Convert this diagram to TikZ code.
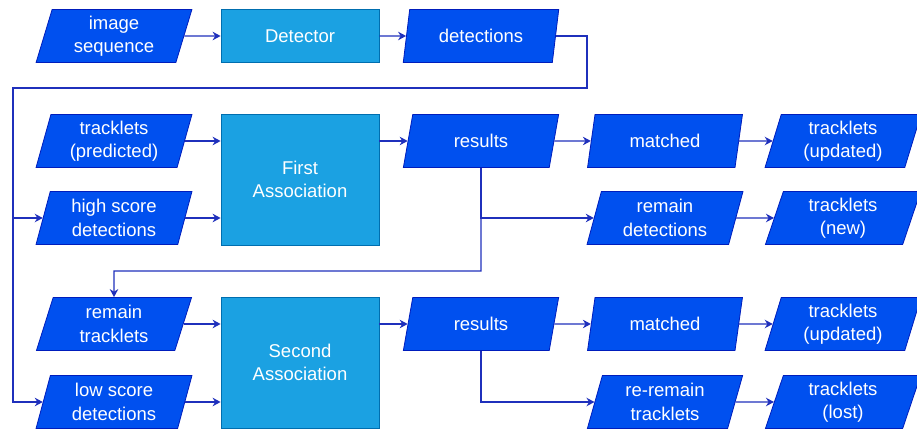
\documentclass[tikz,border=0pt]{standalone}
\usepackage{fontspec}
\setmainfont{Liberation Sans}
\usetikzlibrary{shapes.geometric,arrows.meta}
\definecolor{ioblue}{HTML}{0050EF}
\definecolor{iostroke}{HTML}{001DBC}
\definecolor{procblue}{HTML}{1BA1E2}
\definecolor{procstroke}{HTML}{006EAF}
\definecolor{wire}{HTML}{1F30BC}

\begin{document}
\begin{tikzpicture}[x=1pt,y=-1pt,
  iobox/.style={trapezium, trapezium left angle=76, trapezium right angle=104,
    trapezium stretches=true, minimum width=156pt, minimum height=53pt,
    fill=ioblue, draw=iostroke, line width=0.8pt, text=white, align=center,
    font=\fontsize{18.5}{23.5}\selectfont, inner sep=1pt},
  procbox/.style={rectangle, fill=procblue, draw=procstroke, line width=0.8pt,
    text=white, align=center, font=\fontsize{18.5}{23.5}\selectfont,
    minimum width=158pt},
  flow/.style={draw=wire, line width=1.3pt, -{Stealth[length=8pt,width=8.5pt]}},
]
\useasboundingbox (0,0) rectangle (917,430);
\clip (0,0) rectangle (917,430);

% detection stage
\node[iobox] (img) at (114,36) {image\\sequence};
\node[procbox, minimum height=53pt] (det) at (300,36) {Detector};
\node[iobox] (dets) at (481,36) {detections};

% first association
\node[iobox] (trkp) at (114,141) {tracklets\\(predicted)};
\node[iobox] (high) at (114,218) {high score\\detections};
\node[procbox, minimum height=131pt] (first) at (300,179.5) {First\\Association};
\node[iobox] (res1) at (481,141) {results};
\node[iobox] (match1) at (665,141) {matched};
\node[iobox] (upd1) at (843,141) {tracklets\\(updated)};
\node[iobox] (remdet) at (665,218) {remain\\detections};
\node[iobox] (new) at (843,218) {tracklets\\(new)};

% second association
\node[iobox] (remtrk) at (114,324) {remain\\tracklets};
\node[iobox] (low) at (114,402) {low score\\detections};
\node[procbox, minimum height=131pt] (second) at (300,362.5) {Second\\Association};
\node[iobox] (res2) at (481,324) {results};
\node[iobox] (match2) at (665,324) {matched};
\node[iobox] (upd2) at (843,324) {tracklets\\(updated)};
\node[iobox] (rerem) at (665,402) {re-remain\\tracklets};
\node[iobox] (lost) at (843,402) {tracklets\\(lost)};

% routing points
\coordinate (turnA) at (587,88);
\coordinate (busL) at (13,88);
\coordinate (back) at (481,271);

% connectors
\draw[flow] (img.east) -- (det.west);
\draw[flow] (det.east) -- (dets.west);
\draw[flow] (dets.east) -| (turnA) -- (busL) |- (low.west);
\draw[flow] (busL |- high.west) -- (high.west);

\draw[flow] (trkp.east) -- (trkp.east -| first.west);
\draw[flow] (high.east) -- (high.east -| first.west);
\draw[flow] (first.east |- res1.west) -- (res1.west);
\draw[flow] (res1.east) -- (match1.west);
\draw[flow] (match1.east) -- (upd1.west);
\draw[flow] (res1.south) |- (remdet.west);
\draw[flow] (remdet.east) -- (new.west);
\draw[flow] (res1.south) -- (back) -| (remtrk.north);

\draw[flow] (remtrk.east) -- (remtrk.east -| second.west);
\draw[flow] (low.east) -- (low.east -| second.west);
\draw[flow] (second.east |- res2.west) -- (res2.west);
\draw[flow] (res2.east) -- (match2.west);
\draw[flow] (match2.east) -- (upd2.west);
\draw[flow] (res2.south) |- (rerem.west);
\draw[flow] (rerem.east) -- (lost.west);
\end{tikzpicture}
\end{document}
